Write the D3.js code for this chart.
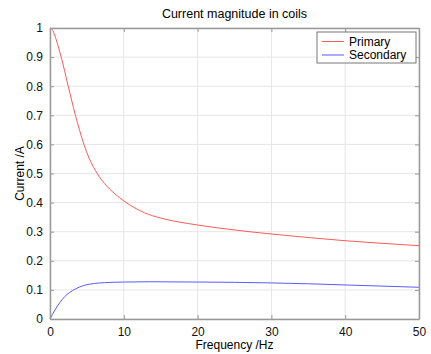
<!DOCTYPE html>
<html>
<head>
<meta charset="utf-8">
<script src="https://cdn.jsdelivr.net/npm/d3@7"></script>
<style>
  body { margin: 0; background: #fff; }
  text { font-family: "Liberation Sans", Arial, sans-serif; }
</style>
</head>
<body>
<div id="chart"></div>
<script>
'use strict';

// values
const freq      = [0, 0.3, 0.63, 1.08, 1.52, 2.47, 3.45, 4.6, 5.3, 6.4, 7.4, 8.75, 10, 11.4, 12.8, 15, 20, 25, 30, 35, 40, 45, 50];
const primary   = [1, 0.995, 0.976, 0.94, 0.9, 0.8, 0.7, 0.6, 0.553, 0.5, 0.465, 0.431, 0.406, 0.383, 0.365, 0.347, 0.323, 0.306, 0.292, 0.28, 0.269, 0.26, 0.252];
const secFreq   = [0, 0.67, 2, 3.36, 4.7, 6, 7.4, 10.1, 13.5, 20, 25, 30, 35, 40, 45, 50];
const secondary = [0, 0.031, 0.077, 0.102, 0.116, 0.122, 0.125, 0.127, 0.128, 0.127, 0.126, 0.124, 0.121, 0.117, 0.113, 0.109];
const xTicks = [0, 10, 20, 30, 40, 50];
const yTicks = [0, 0.1, 0.2, 0.3, 0.4, 0.5, 0.6, 0.7, 0.8, 0.9, 1];
const seriesNames = ["Primary", "Secondary"];
const seriesColors = ["#ff5a5a", "#5a5aff"];

const width = 431, height = 354;
const margin = { top: 28, right: 12, bottom: 35, left: 50 };

const svg = d3.select("#chart").append("svg")
    .attr("width", width)
    .attr("height", height);

const x = d3.scaleLinear().domain([0, 50]).range([margin.left, width - margin.right]);
const y = d3.scaleLinear().domain([0, 1]).range([height - margin.bottom, margin.top]);

// grid
svg.append("g")
    .selectAll("line")
    .data(xTicks)
    .enter().append("line")
    .attr("x1", d => x(d)).attr("x2", d => x(d))
    .attr("y1", y(0)).attr("y2", y(1))
    .attr("stroke", "#e6e6e6");
svg.append("g")
    .selectAll("line")
    .data(yTicks)
    .enter().append("line")
    .attr("y1", d => y(d)).attr("y2", d => y(d))
    .attr("x1", x(0)).attr("x2", x(50))
    .attr("stroke", "#e6e6e6");

// curves
const line = d3.line().curve(d3.curveMonotoneX);
svg.append("path")
    .attr("d", line(freq.map((f, i) => [x(f), y(primary[i])])))
    .attr("fill", "none")
    .attr("stroke", seriesColors[0])
    .attr("stroke-width", 1);
svg.append("path")
    .attr("d", line(secFreq.map((f, i) => [x(f), y(secondary[i])])))
    .attr("fill", "none")
    .attr("stroke", seriesColors[1])
    .attr("stroke-width", 1);

// axes, ticks inward on all four sides
const axisColor = "#999";
const tk = 4;
const drawAxis = (axis, tx, ty) => {
    const g = svg.append("g").attr("transform", `translate(${tx},${ty})`).call(axis);
    g.select(".domain").attr("stroke", axisColor).attr("stroke-width", 1.5);
    g.selectAll(".tick line").attr("stroke", axisColor);
    g.selectAll("text").attr("fill", "#111").style("font-size", "12px");
    return g;
};
drawAxis(d3.axisBottom(x).tickValues(xTicks).tickSizeInner(-tk).tickSizeOuter(0).tickPadding(8), 0, y(0));
drawAxis(d3.axisLeft(y).tickValues(yTicks).tickFormat(d3.format("~g")).tickSizeInner(-tk).tickSizeOuter(0).tickPadding(7), x(0), 0);
drawAxis(d3.axisTop(x).tickValues(xTicks).tickSizeInner(-tk).tickSizeOuter(0).tickFormat(""), 0, y(1));
drawAxis(d3.axisRight(y).tickValues(yTicks).tickSizeInner(-tk).tickSizeOuter(0).tickFormat(""), x(50), 0);

// labels
svg.append("text")
    .attr("x", (x(0) + x(50)) / 2).attr("y", 18)
    .attr("text-anchor", "middle")
    .style("font-size", "12.5px")
    .text("Current magnitude in coils");
svg.append("text")
    .attr("x", (x(0) + x(50)) / 2).attr("y", 349)
    .attr("text-anchor", "middle")
    .style("font-size", "12px")
    .text("Frequency /Hz");
svg.append("text")
    .attr("transform", `translate(24,${(y(0) + y(1)) / 2}) rotate(-90)`)
    .attr("text-anchor", "middle")
    .style("font-size", "12px")
    .text("Current /A");

// legend
const legend = svg.append("g").attr("transform", "translate(317,32)");
legend.append("rect")
    .attr("width", 99).attr("height", 31)
    .attr("fill", "#fff")
    .attr("stroke", "#777");
const items = legend.selectAll("g.item")
    .data(seriesNames)
    .enter().append("g")
    .attr("class", "item")
    .attr("transform", (d, i) => `translate(0,${9.5 + i * 13.5})`);
items.append("line")
    .attr("x1", 5).attr("x2", 27)
    .attr("stroke", (d, i) => seriesColors[i]);
items.append("text")
    .attr("x", 32).attr("dy", "0.35em")
    .style("font-size", "12px")
    .text(d => d);
</script>
</body>
</html>
